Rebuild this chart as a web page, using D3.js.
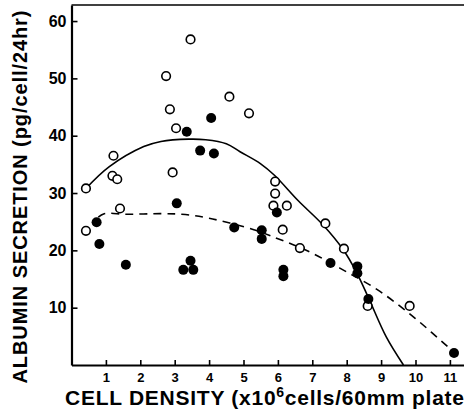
<!DOCTYPE html>
<html>
<head>
<meta charset="utf-8">
<script src="https://cdn.jsdelivr.net/npm/d3@7"></script>
<style>
    body { margin: 0; background: #fff; }
    svg { display: block; font-family: "Liberation Sans", Arial, Helvetica, sans-serif; font-weight: bold; }
</style>
</head>
<body>
<div id="chart"></div>
<script>
// open circles (x = cell density, y = albumin secretion)
const openX = [0.42, 1.22, 1.19, 1.33, 0.42, 1.41, 2.75, 3.46, 2.86, 3.04, 2.94, 4.59, 5.16, 5.92, 5.92, 5.87, 6.26, 6.14, 6.64, 7.38, 7.92, 8.61, 9.83];
const openY = [30.8, 36.5, 33.0, 32.4, 23.4, 27.3, 50.4, 56.8, 44.6, 41.3, 33.6, 46.8, 43.9, 32.0, 29.9, 27.8, 27.8, 23.6, 20.4, 24.7, 20.3, 10.3, 10.3];

// filled circles
const filledX = [0.73, 0.81, 1.58, 3.06, 3.25, 3.46, 3.54, 3.35, 4.06, 3.74, 4.14, 4.73, 5.53, 5.53, 5.97, 6.16, 6.16, 7.53, 8.31, 8.31, 8.63, 11.12];
const filledY = [24.9, 21.1, 17.5, 28.2, 16.6, 18.2, 16.6, 40.7, 43.1, 37.4, 36.9, 24.0, 23.5, 22.0, 26.6, 16.6, 15.5, 17.8, 17.2, 16.0, 11.5, 2.1];

// solid fitted curve
const solidX = [0.42, 1.1, 2.1, 2.6, 3.4, 3.9, 4.5, 4.9, 5.5, 5.9, 6.6, 7.3, 7.9, 8.3, 8.65, 9.15, 9.65];
const solidY = [30.8, 34.6, 38.1, 39.0, 39.4, 39.3, 38.6, 37.2, 35.1, 33.1, 28.6, 24.5, 20.1, 16.0, 11.5, 4.9, 0];

// dashed fitted curve
const dashX = [0.78, 0.95, 1.6, 2.6, 3.2, 4.0, 5.3, 5.8, 6.9, 7.8, 8.9, 10.0, 11.1];
const dashY = [25.8, 26.4, 26.3, 26.4, 26.3, 25.6, 23.6, 22.5, 19.8, 16.9, 13.1, 8.1, 2.3];

const xTicks = [1, 2, 3, 4, 5, 6, 7, 8, 9, 10, 11];
const yTicks = [10, 20, 30, 40, 50, 60];

const width = 464, height = 417;

const svg = d3.select("#chart")
    .append("svg")
    .attr("width", width)
    .attr("height", height);

const x = d3.scaleLinear()
    .domain([0, 11.41])
    .range([71.5, 464]);

const y = d3.scaleLinear()
    .domain([0, 62.8])
    .range([365, 5]);

// curves
const line = d3.line()
    .x(d => x(d[0]))
    .y(d => y(d[1]))
    .curve(d3.curveCatmullRom.alpha(0.5));

svg.append("path")
    .datum(d3.zip(solidX, solidY))
    .attr("d", line)
    .attr("fill", "none")
    .attr("stroke", "#000")
    .attr("stroke-width", 1.6);

svg.append("path")
    .datum(d3.zip(dashX, dashY))
    .attr("d", line)
    .attr("fill", "none")
    .attr("stroke", "#000")
    .attr("stroke-width", 1.6)
    .attr("stroke-dasharray", "8,6");

// top border
svg.append("line")
    .attr("x1", x(0))
    .attr("x2", width)
    .attr("y1", y.range()[1])
    .attr("y2", y.range()[1])
    .attr("stroke", "#000")
    .attr("stroke-width", 1.5);

// axes
const xAxis = svg.append("g")
    .attr("transform", "translate(0," + y(0) + ")")
    .call(d3.axisBottom(x).tickValues(xTicks).tickSizeInner(-5).tickSizeOuter(0).tickFormat(d3.format("d")));

xAxis.select(".domain").attr("stroke-width", 2.2);
xAxis.selectAll(".tick line").attr("stroke-width", 1.6);
xAxis.selectAll(".tick text")
    .attr("y", 17)
    .attr("dy", 0)
    .style("font-size", "13px")
    .style("font-weight", "bold")
    .style("font-family", "'Liberation Sans', Arial, sans-serif")
    .attr("fill", "#000");

const yAxis = svg.append("g")
    .attr("transform", "translate(" + x(0) + ",0)")
    .call(d3.axisLeft(y).tickValues(yTicks).tickSizeInner(-6).tickSizeOuter(0).tickPadding(5));

yAxis.select(".domain").attr("stroke-width", 2.2);
yAxis.selectAll(".tick line").attr("stroke-width", 1.6);
yAxis.selectAll(".tick text")
    .style("font-size", "16px")
    .style("font-weight", "bold")
    .style("font-family", "'Liberation Sans', Arial, sans-serif")
    .attr("fill", "#000");

// points
svg.append("g")
    .selectAll("circle")
    .data(d3.zip(openX, openY))
    .join("circle")
    .attr("cx", d => x(d[0]))
    .attr("cy", d => y(d[1]))
    .attr("r", 4.3)
    .attr("fill", "#fff")
    .attr("stroke", "#000")
    .attr("stroke-width", 1.6);

svg.append("g")
    .selectAll("circle")
    .data(d3.zip(filledX, filledY))
    .join("circle")
    .attr("cx", d => x(d[0]))
    .attr("cy", d => y(d[1]))
    .attr("r", 5)
    .attr("fill", "#000");

// axis titles
svg.append("text")
    .attr("transform", "translate(27,197) rotate(-90)")
    .attr("text-anchor", "middle")
    .attr("textLength", 373)
    .attr("lengthAdjust", "spacing")
    .style("font-size", "20px")
    .text("ALBUMIN  SECRETION  (pg/cell/24hr)");

const xt = svg.append("text")
    .attr("x", 65)
    .attr("y", 405)
    .attr("textLength", 399)
    .attr("lengthAdjust", "spacing")
    .style("font-size", "21px");
xt.append("tspan").text("CELL DENSITY (x10");
xt.append("tspan").attr("dy", -8).style("font-size", "14px").text("6");
xt.append("tspan").attr("dy", 8).text("cells/60mm plate");
</script>
</body>
</html>
